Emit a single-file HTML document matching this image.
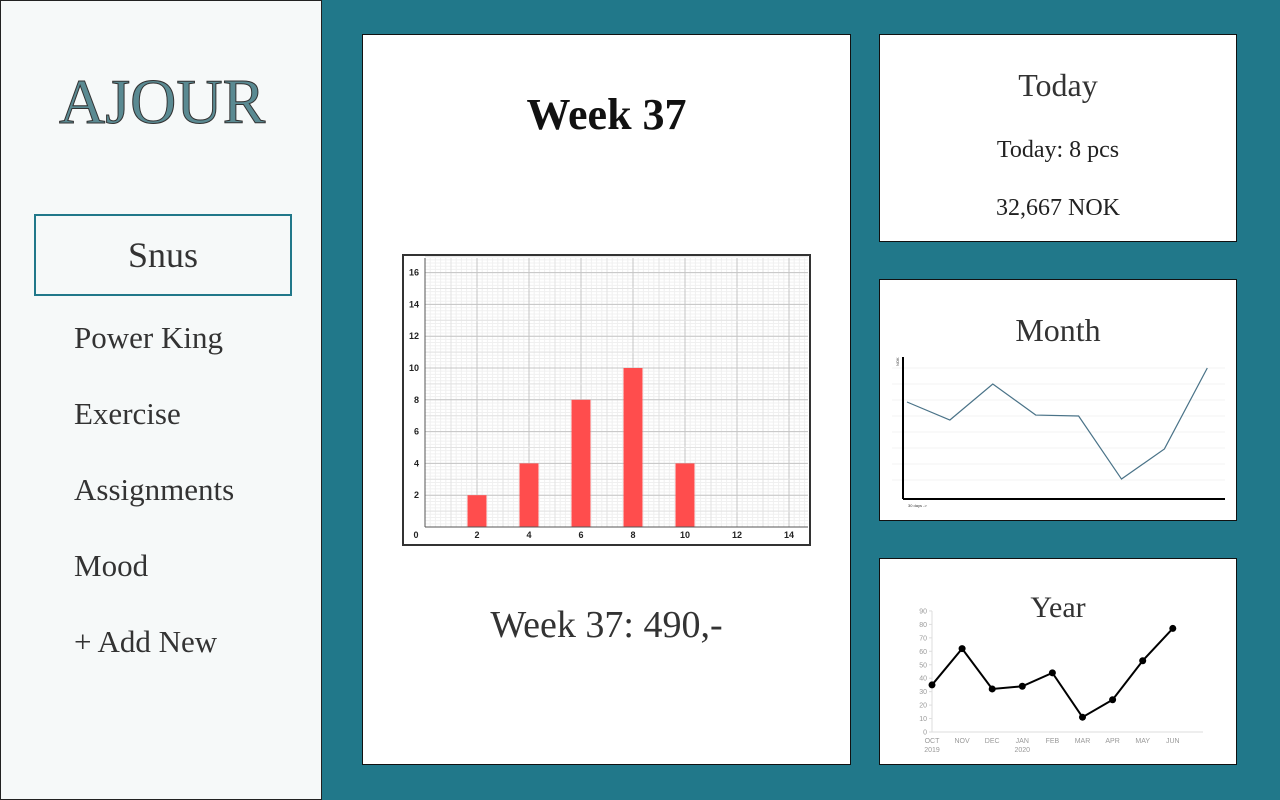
<!DOCTYPE html>
<html><head><meta charset="utf-8"><style>
body{margin:0;width:1280px;height:800px;background:#21788a;position:relative;overflow:hidden;font-family:"Liberation Serif","DejaVu Serif",serif;}
.sb{position:absolute;left:0;top:0;width:320px;height:798px;background:#f6f9f9;border:1px solid #222;}
.logo{position:absolute;left:58px;top:64px;font-size:64px;color:#5a8a92;-webkit-text-stroke:1px #333;letter-spacing:0px;}
.snus{position:absolute;left:33px;top:213px;width:254px;height:78px;border:2px solid #21788a;background:#f6f9f9;text-align:center;line-height:78px;font-size:36px;color:#333;}
.item{position:absolute;left:73px;font-size:31px;color:#333;}
.panel{position:absolute;background:#fff;border:1px solid #111;}
.t{position:absolute;width:100%;text-align:center;color:#222;}
svg text{font-family:"Liberation Sans",sans-serif;}
</style></head><body>
<div class="sb">
<div class="logo">AJOUR</div>
<div class="snus">Snus</div>
<div class="item" style="top:319px">Power King</div>
<div class="item" style="top:395px">Exercise</div>
<div class="item" style="top:471px">Assignments</div>
<div class="item" style="top:547px">Mood</div>
<div class="item" style="top:623px">+ Add New</div>
</div>
<div class="panel" style="left:362px;top:34px;width:487px;height:729px">
<div class="t" style="top:54px;font-size:44px;font-weight:bold;color:#111">Week 37</div>
<div class="t" style="top:568px;font-size:38px;color:#333">Week 37: 490,-</div>
</div>
<div class="panel" style="left:879px;top:34px;width:356px;height:206px">
<div class="t" style="top:32px;font-size:32px;color:#333">Today</div>
<div class="t" style="top:102px;font-size:24px">Today: 8 pcs</div>
<div class="t" style="top:160px;font-size:24px">32,667 NOK</div>
</div>
<div class="panel" style="left:879px;top:279px;width:356px;height:240px">
<div class="t" style="top:32px;font-size:32px;color:#333">Month</div>
</div>
<div class="panel" style="left:879px;top:558px;width:356px;height:205px">
<div class="t" style="top:32px;font-size:30px;color:#333">Year</div>
</div>
<svg id="s" width="1280" height="800" style="position:absolute;left:0;top:0"></svg>
<script>
const barX=[2,4,6,8,10];
const barY=[2,4,8,10,4];
const xTicks=[2,4,6,8,10,12,14];
const yTicks=[2,4,6,8,10,12,14,16];
const monthVals=[58.75,47.5,70,50.6,50,10.6,29.4,80];
const yearLabels=['OCT','NOV','DEC','JAN','FEB','MAR','APR','MAY','JUN'];
const yearSub=['2019','','','2020','','','','',''];
const yearVals=[35,62,32,34,44,11,24,53,77];
const yearTicks=[0,10,20,30,40,50,60,70,80,90];
const S=document.getElementById('s'),NS='http://www.w3.org/2000/svg';
function mk(t,a,p){const e=document.createElementNS(NS,t);for(const k in a)e.setAttribute(k,a[k]);(p||S).appendChild(e);return e;}
const g1=mk('g',{});


mk('rect',{x:403,y:255,width:407,height:290,fill:'#fff',stroke:'#333','stroke-width':2},g1);
const bx=v=>425+v*26, by=v=>527-v*15.9;
for(let i=1;i<=75;i++){const x=425+i*5.2;if(x<808)mk('line',{x1:x,y1:258,x2:x,y2:527,stroke:'#f0f0f0'},g1);}
for(let i=1;i<=90;i++){const y=527-i*3.18;if(y>258)mk('line',{x1:425,y1:y,x2:808,y2:y,stroke:'#f0f0f0'},g1);}
for(let v=1;v<=14.5;v++){mk('line',{x1:bx(v),y1:258,x2:bx(v),y2:527,stroke:v%2?'#e2e2e2':'#c4c4c4'},g1);}
for(let v=1;v<=17;v++){mk('line',{x1:425,y1:by(v),x2:808,y2:by(v),stroke:v%2?'#e2e2e2':'#c4c4c4'},g1);}
barX.forEach((x,i)=>{const r=mk('rect',{x:bx(x)-9.5,y:by(barY[i]),width:19,height:by(0)-by(barY[i]),fill:'#ff4d4d'},g1);

});
mk('line',{x1:425,y1:527,x2:808,y2:527,stroke:'#555'},g1);
mk('line',{x1:425,y1:258,x2:425,y2:527,stroke:'#555'},g1);
xTicks.forEach(v=>{const t=mk('text',{x:bx(v),y:538,'font-size':9,'font-weight':'bold','text-anchor':'middle',fill:'#222'},g1);t.textContent=v;});
yTicks.forEach(v=>{const t=mk('text',{x:419,y:by(v)+3,'font-size':9,'font-weight':'bold','text-anchor':'end',fill:'#222'},g1);t.textContent=v;});
const z=mk('text',{x:416,y:538,'font-size':9,'font-weight':'bold','text-anchor':'middle',fill:'#222'},g1);z.textContent='0';
const g2=mk('g',{});


const mx=i=>907+i*42.9, my=v=>496-v*1.6;
for(let v=10;v<=80;v+=10)mk('line',{x1:892,y1:my(v),x2:1225,y2:my(v),stroke:'#f3f3f3'},g2);
mk('polyline',{points:monthVals.map((v,i)=>mx(i)+','+my(v)).join(' '),fill:'none',stroke:'#4a7388','stroke-width':1.2},g2);
mk('line',{x1:903,y1:357,x2:903,y2:499,stroke:'#000','stroke-width':2},g2);
mk('line',{x1:903,y1:499,x2:1225,y2:499,stroke:'#000','stroke-width':2},g2);
let t=mk('text',{x:908,y:507,'font-size':4,fill:'#333'},g2);t.textContent='30 days ->';
t=mk('text',{x:0,y:0,'font-size':4,fill:'#333',transform:'translate(899,366) rotate(-90)'},g2);t.textContent='NOK';
const g3=mk('g',{});


const yx=i=>932+i*30.1, yy=v=>732-v*1.345;
mk('line',{x1:932,y1:yy(90),x2:932,y2:732,stroke:'#ddd'},g3);
mk('line',{x1:932,y1:732,x2:1203,y2:732,stroke:'#ddd'},g3);
yearTicks.forEach(v=>{mk('line',{x1:929,y1:yy(v),x2:932,y2:yy(v),stroke:'#ddd'},g3);const e=mk('text',{x:927,y:yy(v)+2.5,'font-size':7,'text-anchor':'end',fill:'#999'},g3);e.textContent=v;});
yearLabels.forEach((l,i)=>{let e=mk('text',{x:yx(i),y:743,'font-size':7,'text-anchor':'middle',fill:'#999'},g3);e.textContent=l;
if(yearSub[i]){e=mk('text',{x:yx(i),y:752,'font-size':7,'text-anchor':'middle',fill:'#999'},g3);e.textContent=yearSub[i];}});
mk('polyline',{points:yearVals.map((v,i)=>yx(i)+','+yy(v)).join(' '),fill:'none',stroke:'#000','stroke-width':2},g3);
yearVals.forEach((v,i)=>{const c=mk('circle',{cx:yx(i),cy:yy(v),r:3.5,fill:'#000'},g3);

});
</script>
</body></html>
